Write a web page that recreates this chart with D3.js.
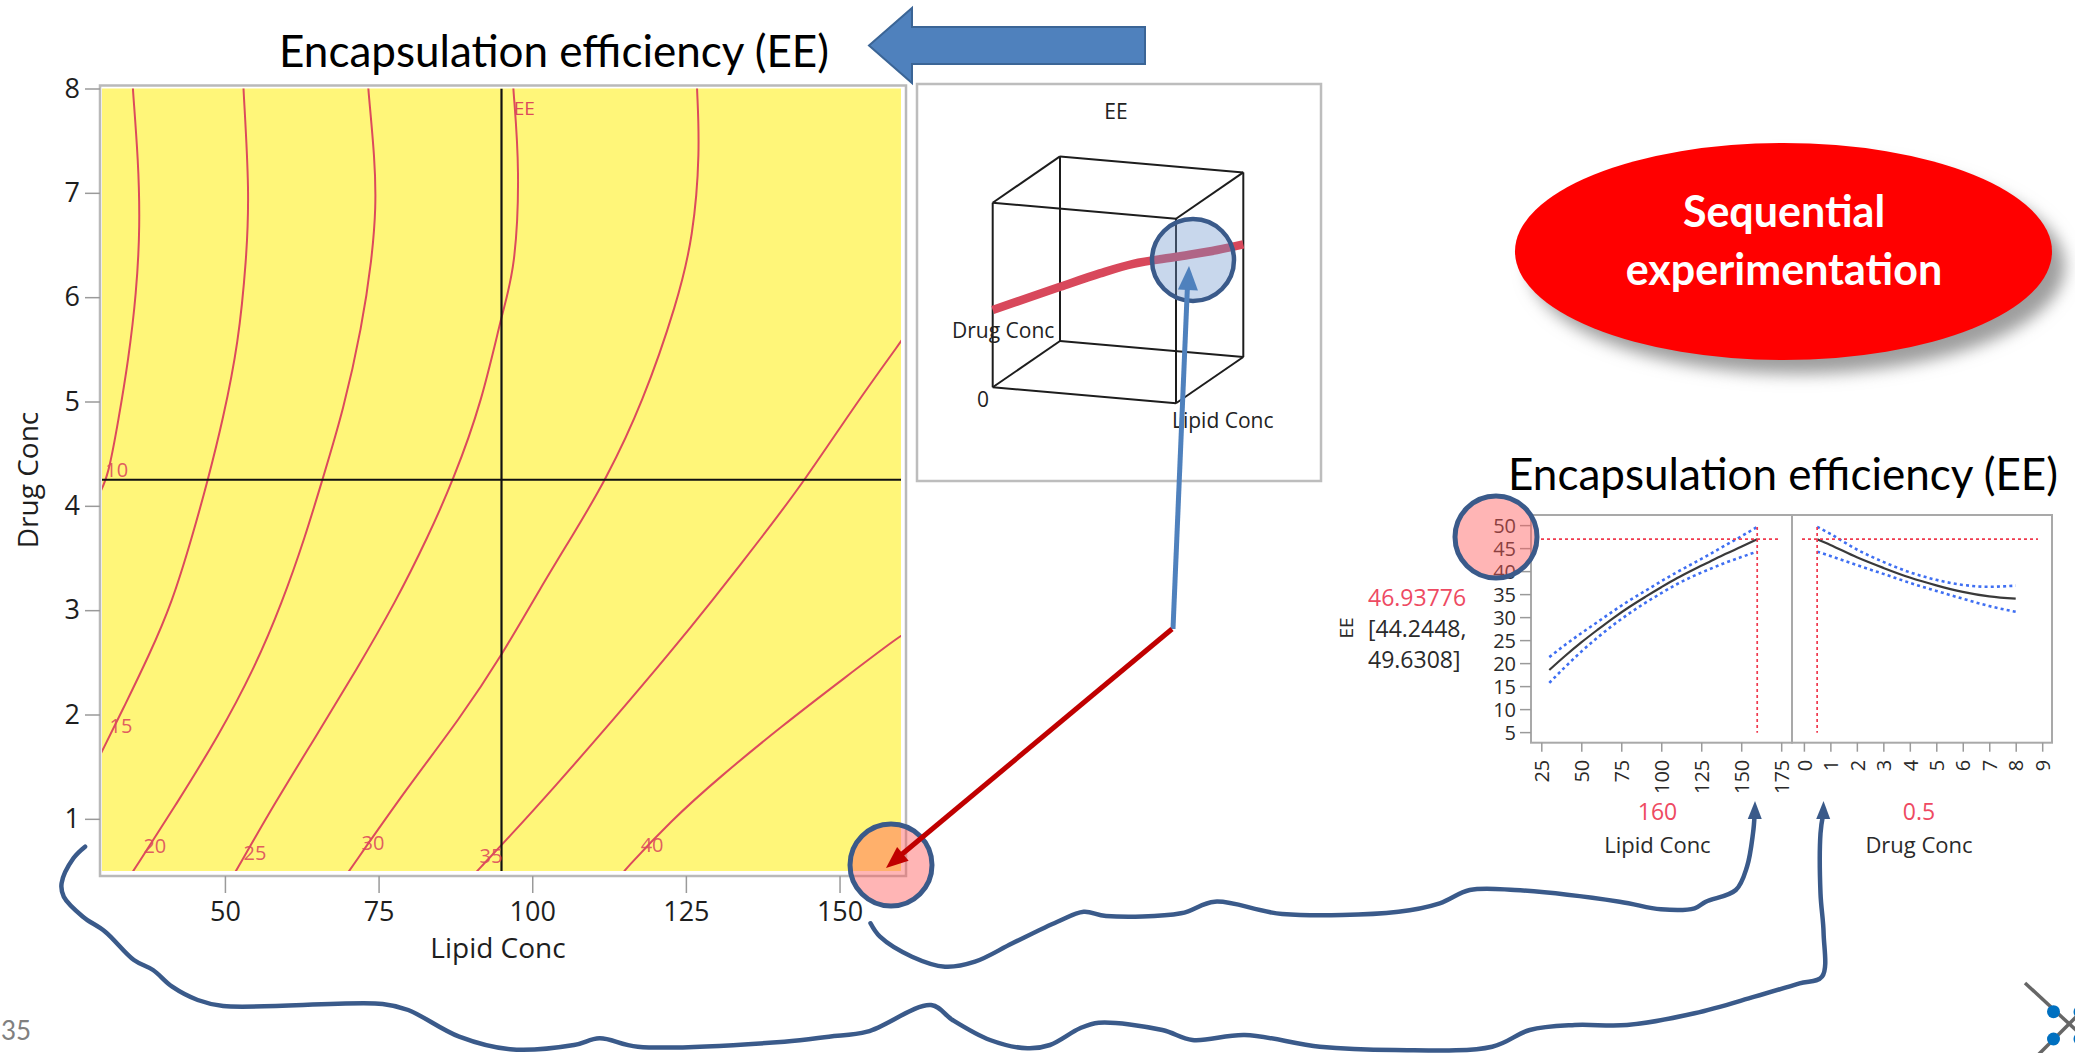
<!DOCTYPE html>
<html>
<head>
<meta charset="utf-8">
<script src="https://cdn.jsdelivr.net/npm/d3@7"></script>
<style>
  html, body { margin: 0; padding: 0; background: #fff; }
  svg { display: block; }
</style>
</head>
<body>
<svg id="slide" width="2075" height="1053"></svg>
<script>
// ---------------- data ----------------
// Contour plot of EE over Lipid Conc (x) and Drug Conc (y)
const lipidTicks = [50, 75, 100, 125, 150];
const drugTicks = [1, 2, 3, 4, 5, 6, 7, 8];
const contourLevels = [10, 15, 20, 25, 30, 35, 40];

// contour traces as [lipid, drug] pairs
const contour10 = [[35.0,8.05],[35.0,8.0],[35.9,7.32],[36.2,6.68],[35.6,6.04],[34.3,5.40],[32.7,4.83],[31.0,4.28],[29.6,4.12]];
const contour15 = [[53.0,8.05],[53.0,8.0],[54.0,7.0],[53.5,6.36],[52.2,5.56],[49.7,4.83],[47.2,4.24],[44.7,3.71],[41.4,3.07],[37.6,2.56],[33.9,2.11],[29.6,1.6]];
const contour20 = [[73.3,8.05],[73.3,8.0],[74.4,7.32],[74.6,6.86],[73.9,6.36],[72.3,5.72],[69.3,4.92],[65.8,4.24],[63.1,3.71],[59.3,3.07],[54.7,2.43],[48.9,1.79],[42.2,1.15],[35.1,0.5],[34.4,0.44]];
const contour25 = [[96.9,8.05],[96.9,8.0],[98.0,7.22],[97.2,6.26],[95.2,5.88],[91.8,4.99],[87.1,4.24],[83.1,3.71],[77.7,3.07],[71.4,2.43],[64.8,1.79],[58.1,1.15],[51.8,0.5],[51.2,0.44]];
const contour30 = [[126.8,8.05],[126.8,8.0],[127.3,7.39],[126.2,6.58],[123.6,5.95],[118.0,4.99],[111.9,4.24],[106.5,3.71],[101.5,3.23],[95.3,2.59],[88.1,1.95],[79.8,1.31],[70.2,0.5],[69.5,0.44]];
const contour35 = [[161.0,5.66],[160.3,5.6],[152.8,4.99],[144.3,4.24],[137.5,3.71],[129.0,3.07],[122.4,2.59],[113.2,1.95],[103.7,1.31],[96.0,0.81],[91.0,0.5],[90.5,0.46]];
const contour40 = [[160.8,2.78],[160.0,2.76],[151.0,2.36],[140.4,1.88],[130.5,1.40],[122.7,0.99],[114.9,0.5],[114.5,0.46]];
const contourTraces = [contour10, contour15, contour20, contour25, contour30, contour35, contour40];
// where each level's label sits, [lipid, drug]
const contourLabelAt = [[32.4,4.28],[33.1,1.82],[38.6,0.67],[54.9,0.61],[74.1,0.70],[93.3,0.58],[119.5,0.68]];
const responseLabelAt = [98.7, 7.75];
const crosshair = [95, 4.25];

// Prediction profiler
const profileEETicks = [5, 10, 15, 20, 25, 30, 35, 40, 45, 50];
const profileLipidTicks = [25, 50, 75, 100, 125, 150, 175];
const profileDrugTicks = [0, 1, 2, 3, 4, 5, 6, 7, 8, 9];
const lipidGrid   = [30, 40, 50, 60, 70, 80, 90, 100, 110, 120, 130, 140, 150, 160];
const eeVsLipid   = [18.5, 21.6, 24.5, 27.2, 29.8, 32.2, 34.4, 36.5, 38.5, 40.3, 42.0, 43.7, 45.3, 46.94];
const eeVsLipidHi = [21.3, 24.0, 26.5, 28.9, 31.3, 33.6, 35.7, 37.8, 39.8, 41.7, 43.6, 45.6, 47.55, 49.63];
const eeVsLipidLo = [15.7, 19.2, 22.5, 25.5, 28.3, 30.8, 33.1, 35.2, 37.2, 38.9, 40.4, 41.8, 43.05, 44.24];
const drugGrid    = [0.5, 1, 2, 3, 4, 5, 6, 7, 8];
const eeVsDrug    = [46.94, 45.7, 43.0, 40.7, 38.6, 36.9, 35.5, 34.5, 34.0];
const eeVsDrugHi  = [49.63, 48.1, 44.7, 42.0, 39.75, 38.1, 37.0, 36.6, 36.85];
const eeVsDrugLo  = [44.24, 43.3, 41.3, 39.4, 37.45, 35.7, 34.0, 32.4, 31.15];
const currentLipid = 160;
const currentDrug = 0.5;
const predictedEE = "46.93776";
const ciLow = "44.2448";
const ciHigh = "49.6308";

// Surface ribbon in the 3D view: position along the diagonal and height (EE)
const surfaceT  = [0, 0.136, 0.269, 0.428, 0.561, 0.734, 0.895, 1];
const surfaceEE = [25.1, 27.6, 30.0, 32.8, 34.6, 35.2, 35.8, 36.6];

// ---------------- drawing ----------------
const svg = d3.select('#slide');
const FONT = "'Open Sans', 'Noto Sans', sans-serif";
const SLIDE_FONT = "Lato, 'Open Sans', sans-serif";
const NAVY = '#3a5a8a';
const CONTOUR_RED = '#dc4a5c';

const defs = svg.append('defs');
defs.append('filter').attr('id', 'soft').attr('x', '-20%').attr('y', '-30%').attr('width', '140%').attr('height', '160%')
  .append('feGaussianBlur').attr('stdDeviation', 8);

// ===== contour plot =====
const xC = d3.scaleLinear().domain([30, 160]).range([102, 901]);
const yC = d3.scaleLinear().domain([0.5, 8]).range([871, 88.5]);
const gC = svg.append('g');

gC.append('rect').attr('x', 100).attr('y', 85.5).attr('width', 806).attr('height', 790.5)
  .attr('fill', '#fff').attr('stroke', '#b9b9b9').attr('stroke-width', 2.5);
gC.append('rect').attr('x', xC(30)).attr('y', yC(8))
  .attr('width', xC(160) - xC(30)).attr('height', yC(0.5) - yC(8)).attr('fill', '#fff679');

defs.append('clipPath').attr('id', 'plotClip').append('rect')
  .attr('x', xC(30)).attr('y', yC(8)).attr('width', xC(160) - xC(30)).attr('height', yC(0.5) - yC(8));

const styleAxis = (g, size, color) => {
  g.select('.domain').remove();
  g.selectAll('line').attr('stroke', '#9a9a9a').attr('stroke-width', 1.5);
  g.selectAll('text').attr('font-family', FONT).attr('font-size', size).attr('fill', color);
};

gC.append('g').attr('transform', 'translate(0,876)')
  .call(d3.axisBottom(xC).tickValues(lipidTicks).tickSize(17).tickPadding(9))
  .call(g => styleAxis(g, 27, '#1e1e1e'));
gC.append('g').attr('transform', 'translate(100,0)')
  .call(d3.axisLeft(yC).tickValues(drugTicks).tickSize(15).tickPadding(5))
  .call(g => styleAxis(g, 27, '#1e1e1e'));

gC.append('text').attr('x', 498).attr('y', 958).attr('text-anchor', 'middle')
  .attr('font-family', FONT).attr('font-size', 28).attr('fill', '#1e1e1e').text('Lipid Conc');
gC.append('text').attr('transform', 'translate(38,480) rotate(-90)').attr('text-anchor', 'middle')
  .attr('font-family', FONT).attr('font-size', 28).attr('fill', '#1e1e1e').text('Drug Conc');

const contourLine = d3.line().x(d => xC(d[0])).y(d => yC(d[1])).curve(d3.curveBasis);
const gLines = gC.append('g').attr('clip-path', 'url(#plotClip)');
gLines.selectAll('path').data(contourTraces).join('path')
  .attr('d', contourLine).attr('fill', 'none')
  .attr('stroke', CONTOUR_RED).attr('stroke-width', 2);

gLines.append('line').attr('x1', xC(crosshair[0])).attr('x2', xC(crosshair[0]))
  .attr('y1', yC(8)).attr('y2', yC(0.5)).attr('stroke', '#111').attr('stroke-width', 2.2);
gLines.append('line').attr('x1', xC(30)).attr('x2', xC(160))
  .attr('y1', yC(crosshair[1])).attr('y2', yC(crosshair[1])).attr('stroke', '#111').attr('stroke-width', 2.2);

gC.append('g').selectAll('text').data(contourLevels).join('text')
  .attr('x', (d, i) => xC(contourLabelAt[i][0])).attr('y', (d, i) => yC(contourLabelAt[i][1]))
  .attr('text-anchor', 'middle').attr('font-family', FONT).attr('font-size', 20)
  .attr('fill', CONTOUR_RED).attr('fill-opacity', 0.9).text(d => d);
gC.append('text').attr('x', xC(responseLabelAt[0])).attr('y', yC(responseLabelAt[1]))
  .attr('text-anchor', 'middle').attr('font-family', FONT).attr('font-size', 19)
  .attr('fill', CONTOUR_RED).text('EE');

// ===== 3D surface view =====
const g3 = svg.append('g');
g3.append('rect').attr('x', 917).attr('y', 84).attr('width', 404).attr('height', 397)
  .attr('fill', '#fff').attr('stroke', '#bdbdbd').attr('stroke-width', 2.5);
g3.append('text').attr('x', 1116).attr('y', 119).attr('text-anchor', 'middle')
  .attr('font-family', FONT).attr('font-size', 21).attr('fill', '#222').text('EE');

const cubeO = [992.7, 387.3], axL = [183.3, 16], axD = [67.3, -46.3], axZ = [0, -184.6];
const proj = (l, d, z) => [cubeO[0] + l * axL[0] + d * axD[0] + z * axZ[0],
                           cubeO[1] + l * axL[1] + d * axD[1] + z * axZ[1]];
const corners = [];
for (const l of [0, 1]) for (const d of [0, 1]) for (const z of [0, 1]) corners.push([l, d, z]);
const edges = [];
corners.forEach((a, i) => corners.forEach((b, j) => {
  if (j > i && (Math.abs(a[0]-b[0]) + Math.abs(a[1]-b[1]) + Math.abs(a[2]-b[2])) === 1) edges.push([a, b]);
}));
g3.selectAll('line.edge').data(edges).join('line').attr('class', 'edge')
  .attr('x1', e => proj(...e[0])[0]).attr('y1', e => proj(...e[0])[1])
  .attr('x2', e => proj(...e[1])[0]).attr('y2', e => proj(...e[1])[1])
  .attr('stroke', '#1d1d1d').attr('stroke-width', 2);

const zS = d3.scaleLinear().domain([0, 60]).range([0, 1]);
const ribbon = d3.line().x((d, i) => proj(surfaceT[i], surfaceT[i], zS(d))[0])
  .y((d, i) => proj(surfaceT[i], surfaceT[i], zS(d))[1]).curve(d3.curveCatmullRom);
g3.append('path').attr('d', ribbon(surfaceEE)).attr('fill', 'none')
  .attr('stroke', '#d8485b').attr('stroke-width', 8.5);

g3.append('text').attr('x', 952).attr('y', 338).attr('font-family', FONT).attr('font-size', 21)
  .attr('fill', '#222').text('Drug Conc');
g3.append('text').attr('x', 983).attr('y', 407).attr('text-anchor', 'middle').attr('font-family', FONT)
  .attr('font-size', 21).attr('fill', '#222').text('0');
g3.append('text').attr('x', 1172).attr('y', 428).attr('font-family', FONT).attr('font-size', 21)
  .attr('fill', '#222').text('Lipid Conc');

// ===== prediction profiler =====
const pxL = d3.scaleLinear().domain([25, 175]).range([1541.3, 1781.2]);
const pxD = d3.scaleLinear().domain([0, 9]).range([1803.9, 2042.2]);
const pyE = d3.scaleLinear().domain([2.7, 52.2]).range([742.7, 515]);
const gP = svg.append('g');
const panelTop = pyE(52.2), panelBot = pyE(2.7);
const p1 = [pxL.invert(1531), pxL.invert(1792)];
const p2 = [pxD.invert(1792), pxD.invert(2052)];

gP.append('rect').attr('x', pxL(p1[0])).attr('y', panelTop).attr('width', pxL(p1[1]) - pxL(p1[0]))
  .attr('height', panelBot - panelTop).attr('fill', '#fff').attr('stroke', '#a9a9a9').attr('stroke-width', 2);
gP.append('rect').attr('x', pxD(p2[0])).attr('y', panelTop).attr('width', pxD(p2[1]) - pxD(p2[0]))
  .attr('height', panelBot - panelTop).attr('fill', '#fff').attr('stroke', '#a9a9a9').attr('stroke-width', 2);

gP.append('g').attr('transform', `translate(${pxL(p1[0])},0)`)
  .call(d3.axisLeft(pyE).tickValues(profileEETicks).tickSize(11).tickPadding(4))
  .call(g => styleAxis(g, 20, '#2a2a2a'))
  .call(g => g.selectAll('text').attr('dy', '0.36em'));

const rotTicks = g => {
  g.selectAll('text').attr('transform', 'rotate(-90)').attr('x', -17).attr('y', 0)
    .attr('dy', '0.36em').attr('text-anchor', 'end');
};
gP.append('g').attr('transform', `translate(0,${panelBot})`)
  .call(d3.axisBottom(pxL).tickValues(profileLipidTicks).tickSize(9))
  .call(g => styleAxis(g, 20, '#2a2a2a')).call(rotTicks);
gP.append('g').attr('transform', `translate(0,${panelBot})`)
  .call(d3.axisBottom(pxD).tickValues(profileDrugTicks).tickSize(9))
  .call(g => styleAxis(g, 20, '#2a2a2a')).call(rotTicks);

const dotted = { stroke: '#3f6ff2', 'stroke-width': 2.6, 'stroke-dasharray': '3,3.2', fill: 'none' };
const applyAttrs = (sel, o) => { Object.entries(o).forEach(([k, v]) => sel.attr(k, v)); return sel; };
const profLine = (grid, xs) => d3.line().x((d, i) => xs(grid[i])).y(d => pyE(d)).curve(d3.curveMonotoneX);

const lipLine = profLine(lipidGrid, pxL), drugLine = profLine(drugGrid, pxD);
applyAttrs(gP.append('path').attr('d', lipLine(eeVsLipidHi)), dotted);
applyAttrs(gP.append('path').attr('d', lipLine(eeVsLipidLo)), dotted);
applyAttrs(gP.append('path').attr('d', drugLine(eeVsDrugHi)), dotted);
applyAttrs(gP.append('path').attr('d', drugLine(eeVsDrugLo)), dotted);
gP.append('path').attr('d', lipLine(eeVsLipid)).attr('fill', 'none').attr('stroke', '#3a3a3a').attr('stroke-width', 2.2);
gP.append('path').attr('d', drugLine(eeVsDrug)).attr('fill', 'none').attr('stroke', '#3a3a3a').attr('stroke-width', 2.2);

const redDot = { stroke: '#f03a4e', 'stroke-width': 1.7, 'stroke-dasharray': '3,3' };
const yPred = pyE(+predictedEE);
applyAttrs(gP.append('line').attr('x1', pxL(p1[0]) + 10).attr('x2', pxL(p1[1]) - 14).attr('y1', yPred).attr('y2', yPred), redDot);
applyAttrs(gP.append('line').attr('x1', pxD(p2[0]) + 10).attr('x2', pxD(p2[1]) - 14).attr('y1', yPred).attr('y2', yPred), redDot);
applyAttrs(gP.append('line').attr('x1', pxL(currentLipid)).attr('x2', pxL(currentLipid)).attr('y1', panelTop + 12).attr('y2', panelBot - 10), redDot);
applyAttrs(gP.append('line').attr('x1', pxD(currentDrug)).attr('x2', pxD(currentDrug)).attr('y1', panelTop + 12).attr('y2', panelBot - 10), redDot);

gP.append('text').attr('x', 1368).attr('y', 606).attr('font-family', FONT).attr('font-size', 23)
  .attr('fill', '#ee4a62').text(predictedEE);
gP.append('text').attr('x', 1368).attr('y', 637).attr('font-family', FONT).attr('font-size', 23)
  .attr('fill', '#2a2a2a').text(`[${ciLow},`);
gP.append('text').attr('x', 1368).attr('y', 668).attr('font-family', FONT).attr('font-size', 23)
  .attr('fill', '#2a2a2a').text(`${ciHigh}]`);
gP.append('text').attr('transform', 'translate(1353,628) rotate(-90)').attr('text-anchor', 'middle')
  .attr('font-family', FONT).attr('font-size', 19).attr('fill', '#2a2a2a').text('EE');

const midL = (pxL(p1[0]) + pxL(p1[1])) / 2 - 4, midD = (pxD(p2[0]) + pxD(p2[1])) / 2 - 3;
gP.append('text').attr('x', midL).attr('y', 820).attr('text-anchor', 'middle').attr('font-family', FONT)
  .attr('font-size', 23).attr('fill', '#ee4a62').text(currentLipid);
gP.append('text').attr('x', midL).attr('y', 853).attr('text-anchor', 'middle').attr('font-family', FONT)
  .attr('font-size', 22).attr('fill', '#2a2a2a').text('Lipid Conc');
gP.append('text').attr('x', midD).attr('y', 820).attr('text-anchor', 'middle').attr('font-family', FONT)
  .attr('font-size', 23).attr('fill', '#ee4a62').text(currentDrug);
gP.append('text').attr('x', midD).attr('y', 853).attr('text-anchor', 'middle').attr('font-family', FONT)
  .attr('font-size', 22).attr('fill', '#2a2a2a').text('Drug Conc');

// ===== slide titles and callouts =====
const gA = svg.append('g');
gA.append('text').attr('x', 554).attr('y', 67).attr('text-anchor', 'middle').attr('font-family', SLIDE_FONT)
  .attr('font-size', 44).attr('fill', '#000').text('Encapsulation efficiency (EE)');
gA.append('text').attr('x', 1783).attr('y', 490).attr('text-anchor', 'middle').attr('font-family', SLIDE_FONT)
  .attr('font-size', 44).attr('fill', '#000').text('Encapsulation efficiency (EE)');

// block arrow pointing at the contour plot title
gA.append('path').attr('d', 'M869,45.5 L912,8 L912,27 L1145,27 L1145,64 L912,64 L912,83 Z')
  .attr('fill', '#4f81bd').attr('stroke', '#3b6596').attr('stroke-width', 2);

// highlighted spots
gA.append('circle').attr('cx', 891).attr('cy', 865).attr('r', 41)
  .attr('fill', 'rgba(255,90,90,0.45)').attr('stroke', NAVY).attr('stroke-width', 5);
gA.append('circle').attr('cx', 1496).attr('cy', 537).attr('r', 41)
  .attr('fill', 'rgba(255,90,90,0.45)').attr('stroke', NAVY).attr('stroke-width', 5);
gA.append('circle').attr('cx', 1193).attr('cy', 260).attr('r', 41)
  .attr('fill', 'rgba(110,150,205,0.38)').attr('stroke', NAVY).attr('stroke-width', 4.5);

// connector arrows
const arrowHead = (tip, from, len, half, color) => {
  const dx = tip[0] - from[0], dy = tip[1] - from[1], n = Math.hypot(dx, dy);
  const ux = dx / n, uy = dy / n, bx = tip[0] - ux * len, by = tip[1] - uy * len;
  gA.append('path').attr('d', `M${tip[0]},${tip[1]} L${bx - uy * half},${by + ux * half} L${bx + uy * half},${by - ux * half} Z`)
    .attr('fill', color);
};
gA.append('line').attr('x1', 1173).attr('y1', 629).attr('x2', 1187.5).attr('y2', 285)
  .attr('stroke', '#4f81bd').attr('stroke-width', 5);
arrowHead([1189, 266], [1173, 629], 24, 10, '#4f81bd');
gA.append('line').attr('x1', 1172).attr('y1', 629).attr('x2', 901).attr('y2', 855)
  .attr('stroke', '#c00000').attr('stroke-width', 5);
arrowHead([886, 868], [1172, 629], 22, 9, '#c00000');

// hand-drawn connector strokes
const swoosh1 = [[870.5,923.3],[880,936.7],[912,956.7],[945,966.7],[975,961.7],[1012.4,943.3],[1057.4,921.7],[1083.7,911.7],[1106,916],[1181,913.3],[1214.8,901.7],[1282.3,914],[1398.5,911.7],[1439.7,903.3],[1469.7,890],[1514.7,890],[1619.6,901.7],[1660.9,909.3],[1694.6,908.3],[1705.8,901.7],[1735.8,890],[1747,866.7],[1753,833.3],[1754.6,815]];
const swoosh2 = [[85.1,846.7],[73.4,858.3],[61.6,883.3],[63.8,896.7],[82.9,916.7],[105.2,931.7],[133.9,960],[153,970],[172.2,986.7],[197.7,1000],[223.2,1006],[382.7,1004],[408.2,1010],[459.2,1036.7],[510.2,1049.3],[574,1045],[599.5,1038.3],[637.8,1046.7],[784.4,1041.7],[829,1036.7],[867.3,1031.7],[931.1,1005],[952.5,1020],[990,1040],[1027.4,1048.3],[1050,1045],[1080,1028.3],[1098.7,1022.7],[1162.4,1030],[1192.4,1040],[1244.8,1035],[1319.8,1046.7],[1394.8,1050],[1492.2,1046.7],[1529.7,1030],[1574.7,1025],[1627.1,1025],[1694.6,1013.3],[1754.6,996.7],[1799.6,983.3],[1822,976.7],[1823.6,933.3],[1820.5,893.3],[1820.5,833.3],[1823,815]];
const freehand = d3.line().curve(d3.curveCatmullRom.alpha(0.5));
[swoosh1, swoosh2].forEach(pts => {
  gA.append('path').attr('d', freehand(pts)).attr('fill', 'none').attr('stroke', NAVY)
    .attr('stroke-width', 4.5).attr('stroke-linejoin', 'round').attr('stroke-linecap', 'round');
});
arrowHead([1755, 801], [1754.6, 830], 18, 7, NAVY);
arrowHead([1823.5, 801], [1823, 830], 18, 7, NAVY);

// "Sequential experimentation" badge
gA.append('ellipse').attr('cx', 1797).attr('cy', 266).attr('rx', 268).attr('ry', 108)
  .attr('fill', '#9e9e9e').attr('filter', 'url(#soft)');
gA.append('ellipse').attr('cx', 1783.5).attr('cy', 251.5).attr('rx', 268.5).attr('ry', 108.5).attr('fill', '#ff0000');
gA.append('text').attr('x', 1784).attr('y', 227).attr('text-anchor', 'middle').attr('font-family', SLIDE_FONT)
  .attr('font-weight', 700).attr('font-size', 43).attr('fill', '#fff').text('Sequential');
gA.append('text').attr('x', 1784).attr('y', 285).attr('text-anchor', 'middle').attr('font-family', SLIDE_FONT)
  .attr('font-weight', 700).attr('font-size', 43).attr('fill', '#fff').text('experimentation');

// slide number and corner mark
gA.append('text').attr('x', 1).attr('y', 1040).attr('font-family', SLIDE_FONT)
  .attr('font-size', 26).attr('fill', '#808080').text('35');
gA.append('line').attr('x1', 2025).attr('y1', 983).attr('x2', 2078).attr('y2', 1032)
  .attr('stroke', '#666').attr('stroke-width', 3.5);
gA.append('line').attr('x1', 2038).attr('y1', 1055).attr('x2', 2078).attr('y2', 1015)
  .attr('stroke', '#666').attr('stroke-width', 3.5);
[[2053.5, 1011.7], [2053.5, 1039], [2080, 1012], [2080, 1039]].forEach(c => {
  gA.append('circle').attr('cx', c[0]).attr('cy', c[1]).attr('r', 6.5).attr('fill', '#0070c0');
});
</script>
</body>
</html>
